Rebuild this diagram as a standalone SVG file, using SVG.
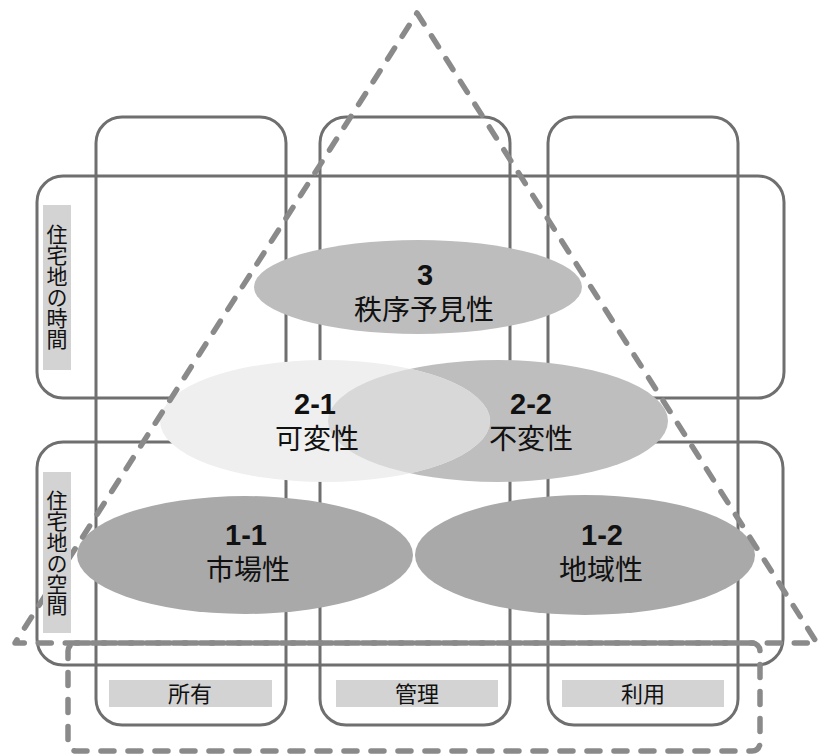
<svg xmlns="http://www.w3.org/2000/svg" width="826" height="756" viewBox="0 0 826 756">
<style>
.box{fill:none;stroke:#6f6f6f;stroke-width:3}
.dash{fill:none;stroke:#8a8a8a;stroke-width:5.5;stroke-dasharray:13 14;stroke-linecap:round;stroke-linejoin:round}
.lbl{fill:#d3d3d3}
.num{font-family:"Liberation Sans",Arial,sans-serif;font-weight:bold;font-size:29px;fill:#111;text-anchor:middle}
.jp{font-family:"Noto Sans CJK JP","Noto Sans CJK SC",sans-serif;font-size:28px;fill:#111;text-anchor:middle}
.sm{font-family:"Noto Sans CJK JP","Noto Sans CJK SC",sans-serif;font-size:22px;fill:#111;text-anchor:middle}
.vt{font-family:"Noto Sans CJK JP","Noto Sans CJK SC",sans-serif;font-size:21px;fill:#111;text-anchor:middle;writing-mode:vertical-rl}
</style>
<defs>
<clipPath id="c21"><ellipse cx="325" cy="421" rx="165" ry="61"/></clipPath>
</defs>
<rect width="826" height="756" fill="#fff"/>
<g id="frames">
<rect id="row-time" class="box" x="37" y="176" width="747" height="222" rx="26"/>
<rect id="row-space" class="box" x="37" y="442" width="746" height="223" rx="26"/>
<rect id="col-own" class="box" x="96" y="117" width="190" height="608" rx="26"/>
<rect id="col-manage" class="box" x="320" y="117" width="190" height="608" rx="26"/>
<rect id="col-use" class="box" x="548" y="117" width="190" height="608" rx="26"/>
</g>
<g id="n3">
<ellipse cx="418" cy="287" rx="164" ry="47" fill="#bdbdbd"/>
<text class="num" x="425" y="285">3</text>
<text class="jp" x="424" y="320">秩序予見性</text>
</g>
<g id="n2-2">
<ellipse cx="498" cy="421" rx="170" ry="61" fill="#bebebe"/>
</g>
<g id="n2-1">
<ellipse cx="325" cy="421" rx="165" ry="61" fill="#efefef"/>
<ellipse cx="498" cy="421" rx="170" ry="61" fill="#d8d8d8" clip-path="url(#c21)"/>
<text class="num" x="315" y="414">2-1</text>
<text class="jp" x="317" y="449">可変性</text>
</g>
<g id="n2-2-text">
<text class="num" x="531" y="414">2-2</text>
<text class="jp" x="531" y="449">不変性</text>
</g>
<g id="n1-1">
<ellipse cx="245" cy="555" rx="168" ry="59" fill="#a9a9a9"/>
<text class="num" x="246" y="545">1-1</text>
<text class="jp" x="248" y="580">市場性</text>
</g>
<g id="n1-2">
<ellipse cx="585" cy="555" rx="170" ry="60" fill="#a9a9a9"/>
<text class="num" x="602" y="545">1-2</text>
<text class="jp" x="601" y="580">地域性</text>
</g>
<g id="connectors">
<path id="triangle" class="dash" d="M417 13 L817 643 L15 643 Z"/>
<rect id="bottom-frame" class="dash" x="68" y="643" width="692" height="108" rx="8"/>
</g>
<g id="label-time">
<rect class="lbl" x="43" y="205" width="28" height="165"/>
<text class="vt" x="57" y="287">住宅地の時間</text>
</g>
<g id="label-space">
<rect class="lbl" x="43" y="472" width="28" height="161"/>
<text class="vt" x="57" y="553">住宅地の空間</text>
</g>
<g id="label-own">
<rect class="lbl" x="109" y="680" width="163" height="27"/>
<text class="sm" x="190" y="702">所有</text>
</g>
<g id="label-manage">
<rect class="lbl" x="336" y="680" width="162" height="27"/>
<text class="sm" x="417" y="702">管理</text>
</g>
<g id="label-use">
<rect class="lbl" x="562" y="680" width="162" height="27"/>
<text class="sm" x="643" y="702">利用</text>
</g>
</svg>
